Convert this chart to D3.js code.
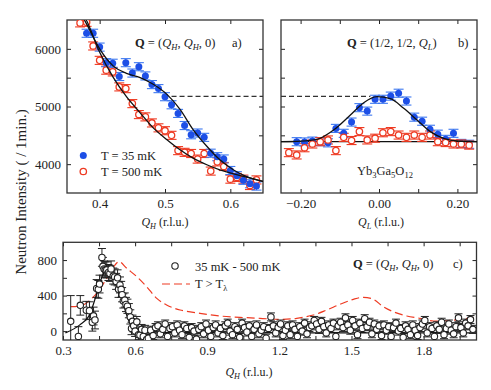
<!DOCTYPE html>
<html>
<head>
<meta charset="utf-8">
<script src="https://cdn.jsdelivr.net/npm/d3@7"></script>
<style>
  body { margin: 0; background: #fff; }
  svg text { font-family: "Liberation Serif", "Times New Roman", serif; fill: #222; }
</style>
</head>
<body>
<svg id="chart" width="491" height="390"></svg>
<script>
// ---- panel a : Q = (QH, QH, 0) ----
const qBlueA = [0.38,0.39,0.40,0.41,0.42,0.43,0.44,0.45,0.46,0.47,0.48,0.49,0.50,0.51,0.52,0.53,0.54,0.55,0.56,0.57,0.58,0.59,0.60,0.61,0.62,0.63,0.64];
const blueA  = [6270,6270,6030,5760,5750,5520,5760,5580,5690,5530,5380,5310,5170,5030,4880,4670,4510,4540,4465,4190,4130,4090,3890,3800,3720,3660,3620];
const qRedA  = [0.37,0.38,0.39,0.40,0.41,0.42,0.43,0.44,0.45,0.46,0.47,0.48,0.49,0.50,0.51,0.52,0.53,0.54,0.55,0.56,0.57,0.58,0.59,0.60,0.61,0.62,0.63,0.64];
const redA   = [6450,6460,6050,5800,5630,5600,5340,5310,5050,4860,4820,4715,4630,4580,4500,4235,4205,4185,4088,4185,3880,4040,3960,3740,3770,3740,3630,3727];
const errAB = 70;
const qFitBlueA = [0.372,0.3805,0.40,0.421,0.441,0.462,0.482,0.503,0.523,0.543,0.564,0.584,0.605,0.625,0.65];
const fitBlueA  = [6600,6420,6000,5700,5575,5500,5385,5210,4950,4600,4310,4075,3900,3785,3700];
const qFitRedA  = [0.375,0.38,0.40,0.421,0.441,0.462,0.482,0.503,0.523,0.543,0.564,0.584,0.605,0.625,0.65];
const fitRedA   = [6600,6490,5940,5500,5170,4890,4630,4425,4250,4105,3990,3900,3830,3775,3700];
const dashLevel = 5175;

// ---- panel b : Q = (1/2, 1/2, QL) ----
const qBlueB = [-0.21,-0.19,-0.17,-0.15,-0.13,-0.11,-0.09,-0.07,-0.05,-0.03,-0.01,0.01,0.03,0.05,0.07,0.09,0.11,0.13,0.15,0.17,0.19,0.21,0.23];
const blueB  = [4390,4385,4400,4390,4370,4620,4535,4730,4980,4920,5125,5125,5180,5230,5095,4815,4745,4605,4520,4430,4535,4360,4345];
const qRedB  = [-0.23,-0.21,-0.19,-0.17,-0.15,-0.13,-0.11,-0.09,-0.07,-0.05,-0.03,-0.01,0.01,0.03,0.05,0.07,0.09,0.11,0.13,0.15,0.17,0.19,0.21,0.23];
const redB   = [4200,4160,4285,4350,4390,4420,4235,4465,4410,4565,4420,4450,4545,4565,4505,4465,4505,4465,4505,4390,4375,4350,4350,4330];
const qFitB = [-0.25,-0.20,-0.158,-0.116,-0.073,-0.039,-0.005,0.029,0.063,0.097,0.131,0.165,0.199,0.25];
const fitB  = [4392,4400,4431,4592,4853,5066,5170,5135,4969,4766,4564,4448,4402,4392];
const baseB = 4390;

// ---- panel c : difference 35 mK - 500 mK ----
const qPeakC = [0.332,0.364,0.372,0.397,0.41,0.422,0.427,0.433,0.44,0.447,0.452,0.462,0.466,0.471,0.476,0.482,0.489,0.495,0.5,0.509,0.515,0.521,0.527,0.531,0.537,0.542,0.546,0.551,0.557,0.562,0.568,0.574,0.58,0.585,0.589,0.594,0.6,0.607,0.614,0.62,0.627,0.634,0.641,0.648];
const peakC  = [110,-60,290,235,230,100,170,125,480,470,530,830,730,700,690,690,660,650,700,620,610,560,600,470,520,470,410,340,350,300,280,230,160,30,110,60,0,105,-40,-45,20,-60,10,-95];
const errPeakC = [290,110,110,100,100,100,100,100,100,100,100,100,100,90,90,90,90,90,90,90,90,90,90,90,90,90,80,80,80,80,80,80,80,70,70,70,60,60,60,55,55,55,55,55];
const qTailStart = 0.655, qTailStep = 0.01;
const tailC = [
  -80,10,-50,40,60,-30,20,80,-60,30,
  50,-20,70,10,-40,60,30,-70,40,0,
  -90,20,50,-30,80,10,-60,40,70,-20,
  30,-50,60,90,0,-40,50,20,-70,90,
  40,-10,60,-60,20,70,-30,10,50,-80,
  30,160,60,-20,40,80,-50,10,60,-40,
  70,20,-60,50,0,90,-30,40,60,120,
  80,20,110,50,-20,70,30,90,-60,60,
  100,40,150,70,10,120,60,-40,90,30,
  140,50,100,-30,80,20,60,-50,70,10,
  50,-60,40,90,0,30,-70,60,20,-40,
  70,10,-50,40,80,120,-20,50,30,-60,
  60,20,100,-40,30,80,10,-30,50,150,
  40,-20,90,60,130,20];
const errTailC = 45;
const qFitC = [0.31,0.37,0.41,0.44,0.465,0.49,0.515,0.54,0.565,0.59,0.62,0.66,2.02];
const fitC  = [-20,70,180,420,630,705,600,410,180,25,-20,-20,-20];
const qHighT = [0.332,0.384,0.44,0.482,0.516,0.534,0.565,0.607,0.648,0.69,0.731,0.787,0.87,0.953,1.036,1.119,1.203,1.272,1.341,1.397,1.452,1.508,1.549,1.591,1.632,1.674,1.73,1.785,1.84,1.896,1.951,2.007];
const highT  = [275,294,426,595,744,782,707,613,500,369,294,238,200,170,155,144,133,144,181,238,302,358,381,358,275,218,170,144,114,117,133,155];

const BLUE = '#1d4fe6', BLUE_BAR = '#3d78f0', RED = '#ee3a22', INK = '#222';

const svg = d3.select('#chart');
const zip = (qs, vs) => qs.map((q, i) => ({q, v: vs[i]}));

// rich text: bold / italic / subscript parts
function rich(g, x, y, parts, size, anchor) {
  const t = g.append('text').attr('x', x).attr('y', y)
    .style('font-size', size + 'px').attr('text-anchor', anchor || 'start');
  let down = false;
  parts.forEach(p => {
    const s = t.append('tspan').text(p.t);
    if (p.b) s.style('font-weight', 'bold');
    if (p.i) s.style('font-style', 'italic');
    if (p.sub) { s.style('font-size', (size * 0.68) + 'px'); if (!down) { s.attr('dy', 3); down = true; } }
    else if (down) { s.attr('dy', -3); down = false; }
  });
  return t;
}

function frame(g, x, y, o) {
  const [x0, x1] = x.range(), [y0, y1] = y.range();
  const mk = (axis, vals, fmt) => axis.tickValues(vals).tickSizeInner(-4).tickSizeOuter(0).tickPadding(6).tickFormat(fmt);
  const none = () => '';
  g.append('g').attr('transform', `translate(0,${y0})`).call(mk(d3.axisBottom(x), o.xTicks, o.xFmt || none));
  g.append('g').attr('transform', `translate(0,${y0})`).call(mk(d3.axisBottom(x), o.xMinor || [], none));
  g.append('g').attr('transform', `translate(0,${y1})`).call(mk(d3.axisTop(x), (o.xTicks).concat(o.xMinor || []), none));
  g.append('g').attr('transform', `translate(${x0},0)`).call(mk(d3.axisLeft(y), o.yTicks, o.yFmt || none));
  g.append('g').attr('transform', `translate(${x0},0)`).call(mk(d3.axisLeft(y), o.yMinor || [], none));
  g.append('g').attr('transform', `translate(${x1},0)`).call(mk(d3.axisRight(y), o.yTicks.concat(o.yMinor || []), none));
  g.selectAll('.domain').remove();
  g.selectAll('.tick line').attr('stroke', INK).attr('stroke-width', 1);
  g.selectAll('.tick text').style('font-size', '13px').attr('fill', INK)
    .style('font-family', '"Liberation Serif", serif');
  g.append('rect').attr('x', x0).attr('y', y1).attr('width', x1 - x0).attr('height', y0 - y1)
    .attr('fill', 'none').attr('stroke', '#333').attr('stroke-width', 1.3);
}

function clipFor(id, x, y) {
  svg.append('clipPath').attr('id', id).append('rect')
    .attr('x', x.range()[0]).attr('y', y.range()[1])
    .attr('width', x.range()[1] - x.range()[0]).attr('height', y.range()[0] - y.range()[1]);
  return svg.append('g').attr('clip-path', `url(#${id})`);
}

function errorBars(g, data, x, y, err, color, cap, width) {
  const e = d => (typeof err === 'function' ? err(d) : err);
  const eb = g.append('g').attr('stroke', color).attr('stroke-width', width || 1.1);
  eb.selectAll('line.v').data(data).join('line')
    .attr('x1', d => x(d.q)).attr('x2', d => x(d.q))
    .attr('y1', d => y(d.v - e(d))).attr('y2', d => y(d.v + e(d)));
  eb.selectAll('line.t').data(data).join('line')
    .attr('x1', d => x(d.q) - cap).attr('x2', d => x(d.q) + cap)
    .attr('y1', d => y(d.v + e(d))).attr('y2', d => y(d.v + e(d)));
  eb.selectAll('line.b').data(data).join('line')
    .attr('x1', d => x(d.q) - cap).attr('x2', d => x(d.q) + cap)
    .attr('y1', d => y(d.v - e(d))).attr('y2', d => y(d.v - e(d)));
}

const line = (x, y, curve) => d3.line().x(d => x(d.q)).y(d => y(d.v)).curve(curve || d3.curveMonotoneX);

// ================= panel a =================
const xA = d3.scaleLinear().domain([0.35, 0.65]).range([67, 263]);
const yAB = d3.scaleLinear().domain([3500, 6500]).range([193, 20]);
const gA = svg.append('g');
frame(gA, xA, yAB, {xTicks: [0.4, 0.5, 0.6], xFmt: d3.format('.1f'),
  yTicks: [4000, 5000, 6000], yFmt: d3.format('d'), yMinor: [4500, 5500]});
const cA = clipFor('clipA', xA, yAB);
cA.append('line').attr('x1', xA(0.51)).attr('x2', xA(0.65)).attr('y1', yAB(dashLevel)).attr('y2', yAB(dashLevel))
  .attr('stroke', '#333').attr('stroke-width', 1.1).attr('stroke-dasharray', '5,3');
const redDataA = zip(qRedA, redA), blueDataA = zip(qBlueA, blueA);
errorBars(cA, redDataA, xA, yAB, errAB, RED, 5, 1.1);
errorBars(cA, blueDataA, xA, yAB, errAB, BLUE_BAR, 5, 1.1);
cA.selectAll('circle.r').data(redDataA).join('circle').attr('cx', d => xA(d.q)).attr('cy', d => yAB(d.v))
  .attr('r', 3.2).attr('fill', '#fff').attr('stroke', RED).attr('stroke-width', 1.3);
cA.selectAll('circle.b').data(blueDataA).join('circle').attr('cx', d => xA(d.q)).attr('cy', d => yAB(d.v))
  .attr('r', 3.5).attr('fill', BLUE);
cA.append('path').datum(zip(qFitBlueA, fitBlueA)).attr('d', line(xA, yAB)).attr('fill', 'none').attr('stroke', '#111').attr('stroke-width', 1.3);
cA.append('path').datum(zip(qFitRedA, fitRedA)).attr('d', line(xA, yAB)).attr('fill', 'none').attr('stroke', '#111').attr('stroke-width', 1.3);
rich(gA, 135, 47, [{t: 'Q', b: 1}, {t: ' = ('}, {t: 'Q', i: 1}, {t: 'H', i: 1, sub: 1}, {t: ', '}, {t: 'Q', i: 1}, {t: 'H', i: 1, sub: 1}, {t: ', 0)'}], 12.5);
rich(gA, 232, 47, [{t: 'a)'}], 12.5);
gA.append('circle').attr('cx', 83.3).attr('cy', 155.5).attr('r', 3.5).attr('fill', BLUE);
gA.append('circle').attr('cx', 83.3).attr('cy', 171.5).attr('r', 3.2).attr('fill', '#fff').attr('stroke', RED).attr('stroke-width', 1.3);
rich(gA, 101, 160, [{t: 'T = 35 mK'}], 12.5);
rich(gA, 101, 176, [{t: 'T = 500 mK'}], 12.5);
rich(svg, 165, 226, [{t: 'Q', i: 1}, {t: 'H', i: 1, sub: 1}, {t: ' (r.l.u.)'}], 12, 'middle');

// ================= panel b =================
const xB = d3.scaleLinear().domain([-0.25, 0.25]).range([281, 477]);
const gB = svg.append('g');
frame(gB, xB, yAB, {xTicks: [-0.2, 0, 0.2], xFmt: d3.format('.2f'), xMinor: [-0.1, 0.1],
  yTicks: [4000, 5000, 6000], yMinor: [4500, 5500]});
const cB = clipFor('clipB', xB, yAB);
cB.append('line').attr('x1', xB(-0.25)).attr('x2', xB(-0.022)).attr('y1', yAB(dashLevel)).attr('y2', yAB(dashLevel))
  .attr('stroke', '#333').attr('stroke-width', 1.1).attr('stroke-dasharray', '5,3');
cB.append('line').attr('x1', xB(-0.25)).attr('x2', xB(0.25)).attr('y1', yAB(baseB)).attr('y2', yAB(baseB))
  .attr('stroke', '#111').attr('stroke-width', 1.2);
const redDataB = zip(qRedB, redB), blueDataB = zip(qBlueB, blueB);
errorBars(cB, blueDataB, xB, yAB, errAB, BLUE_BAR, 5, 1.1);
errorBars(cB, redDataB, xB, yAB, errAB, RED, 5, 1.1);
cB.selectAll('circle.b').data(blueDataB).join('circle').attr('cx', d => xB(d.q)).attr('cy', d => yAB(d.v))
  .attr('r', 3.5).attr('fill', BLUE);
cB.selectAll('circle.r').data(redDataB).join('circle').attr('cx', d => xB(d.q)).attr('cy', d => yAB(d.v))
  .attr('r', 3.2).attr('fill', '#fff').attr('stroke', RED).attr('stroke-width', 1.3);
cB.append('path').datum(zip(qFitB, fitB)).attr('d', line(xB, yAB)).attr('fill', 'none').attr('stroke', '#111').attr('stroke-width', 1.3);
rich(gB, 347, 47, [{t: 'Q', b: 1}, {t: ' = (1/2, 1/2, '}, {t: 'Q', i: 1}, {t: 'L', i: 1, sub: 1}, {t: ')'}], 12.5);
rich(gB, 458, 47, [{t: 'b)'}], 12.5);
rich(gB, 357, 175, [{t: 'Yb'}, {t: '3', sub: 1}, {t: 'Ga'}, {t: '5', sub: 1}, {t: 'O'}, {t: '12', sub: 1}], 12.5);
rich(svg, 381, 226, [{t: 'Q', i: 1}, {t: 'L', i: 1, sub: 1}, {t: ' (r.l.u.)'}], 12, 'middle');

// ================= panel c =================
const xC = d3.scaleLinear().domain([0.3, 2.02]).range([63, 476.5]);
const yC = d3.scaleLinear().domain([-100, 1000]).range([340, 242.3]);
const gC = svg.append('g');
frame(gC, xC, yC, {xTicks: [0.3, 0.6, 0.9, 1.2, 1.5, 1.8], xFmt: d3.format('.1f'), xMinor: [0.45, 0.75, 1.05, 1.35, 1.65, 1.95],
  yTicks: [0, 400, 800], yFmt: d3.format('d'), yMinor: [200, 600]});
const cC = clipFor('clipC', xC, yC);
const dataC = zip(qPeakC, peakC).map((d, i) => ({...d, e: errPeakC[i]}))
  .concat(tailC.map((v, i) => ({q: qTailStart + i * qTailStep, v, e: errTailC})));
cC.append('path').datum(zip(qHighT, highT)).attr('d', line(xC, yC, d3.curveCatmullRom)).attr('fill', 'none')
  .attr('stroke', RED).attr('stroke-width', 1.2).attr('stroke-dasharray', '8,4');
errorBars(cC, dataC, xC, yC, d => d.e, INK, 4, 1);
cC.append('path').datum(zip(qFitC, fitC)).attr('d', line(xC, yC)).attr('fill', 'none').attr('stroke', '#111').attr('stroke-width', 1.2);
cC.selectAll('circle').data(dataC).join('circle').attr('cx', d => xC(d.q)).attr('cy', d => yC(d.v))
  .attr('r', 3.2).attr('fill', '#fff').attr('stroke', INK).attr('stroke-width', 1.1);
gC.append('circle').attr('cx', 175).attr('cy', 266).attr('r', 3.2).attr('fill', '#fff').attr('stroke', INK).attr('stroke-width', 1.1);
rich(gC, 195, 270.5, [{t: '35 mK - 500 mK'}], 12.5);
gC.append('line').attr('x1', 162).attr('x2', 190).attr('y1', 284).attr('y2', 284)
  .attr('stroke', RED).attr('stroke-width', 1.2).attr('stroke-dasharray', '8,4');
rich(gC, 195, 288, [{t: 'T > T'}, {t: 'λ', sub: 1}], 12.5);
rich(gC, 353, 268, [{t: 'Q', b: 1}, {t: ' = ('}, {t: 'Q', i: 1}, {t: 'H', i: 1, sub: 1}, {t: ', '}, {t: 'Q', i: 1}, {t: 'H', i: 1, sub: 1}, {t: ', 0)'}], 12.5);
rich(gC, 453, 268, [{t: 'c)'}], 12.5);
rich(svg, 249, 376, [{t: 'Q', i: 1}, {t: 'H', i: 1, sub: 1}, {t: ' (r.l.u.)'}], 12, 'middle');

// shared y title
svg.append('text').attr('transform', 'translate(26,192) rotate(-90)').attr('text-anchor', 'middle')
  .style('font-size', '15px').text('Neutron Intensity ( / 1min.)');
</script>
</body>
</html>
